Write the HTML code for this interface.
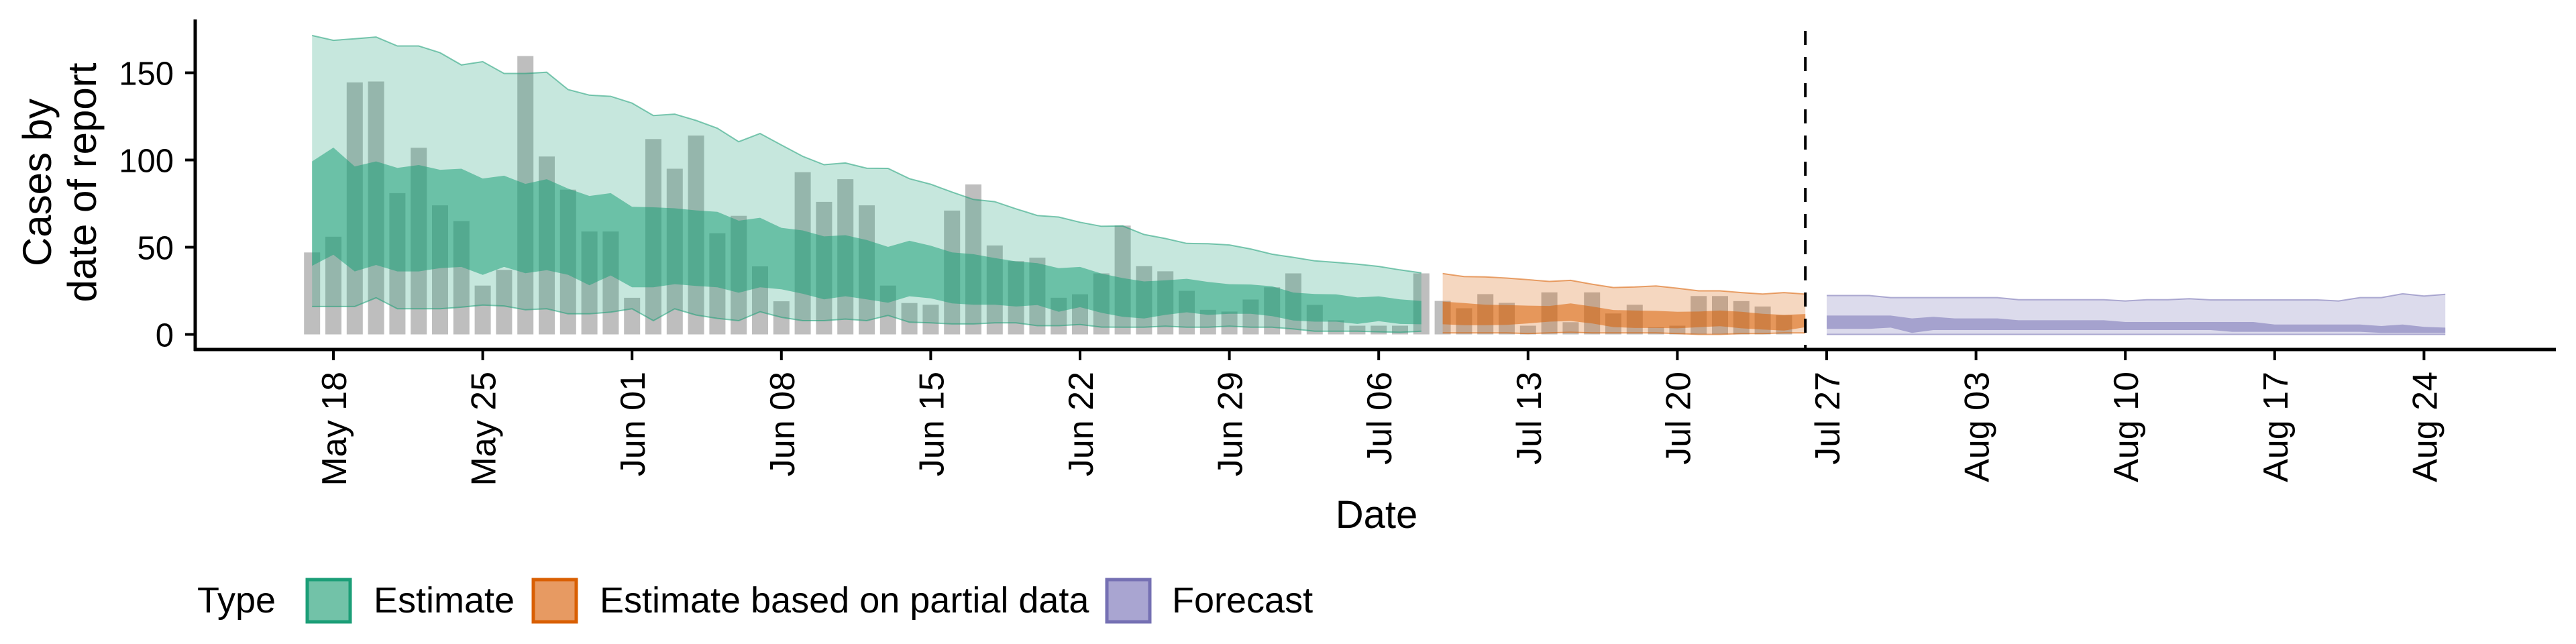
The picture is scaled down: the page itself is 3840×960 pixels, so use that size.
<!DOCTYPE html>
<html><head><meta charset="utf-8"><style>
html,body{margin:0;padding:0;background:#fff;}
svg{display:block;font-family:"Liberation Sans",Arial,sans-serif;}
</style></head><body>
<svg id="chart" width="3840" height="960" viewBox="0 0 3840 960" xmlns="http://www.w3.org/2000/svg">
<g id="bars"></g>
<g id="ribbons"></g>
<g id="axes"></g>
<text font-size="60" text-anchor="middle" transform="translate(76,272) rotate(-90)">Cases by</text>
<text font-size="60" text-anchor="middle" transform="translate(143,272) rotate(-90)">date of report</text>
<text font-size="58" text-anchor="middle" x="2052" y="787">Date</text>
<g>
<text x="294" y="913" font-size="54">Type</text>
<rect x="458" y="864" width="64" height="63" fill="#72c2a8" stroke="#1b9e77" stroke-width="5"/>
<text x="557" y="913" font-size="54">Estimate</text>
<rect x="795" y="864" width="64" height="63" fill="#e79a62" stroke="#d95f02" stroke-width="5"/>
<text x="894" y="913" font-size="54">Estimate based on partial data</text>
<rect x="1650" y="864" width="64" height="63" fill="#a9a5d1" stroke="#7570b3" stroke-width="5"/>
<text x="1747" y="913" font-size="54">Forecast</text>
</g>
</svg>
<script>
// ---- data (day index 0 = May 18) ----
const barStart = -1;
const bars = [47,56,144.5,145,81,107,74,65,28,37,159.6,102,83,59,59,21,112,95,114,
58,68,39,19,93,76,89,74,28,18,17,71,86,51,42,44,21,23,
35,62.4,39.1,36.2,25,14.1,13.1,20,27,35,16.9,8.1,5,5,5,35,
19.2,15,23.1,18.1,5,24.1,7,24.1,12,17,4.1,5,22,22,19.1,16,11];

const estStart = -1;
const estUpper90 = [171.4,168.6,169.5,170.5,165.4,165.4,161.5,154.5,156.4,149.6,149.6,150.3,140.4,137.2,136.5,132.6,125.5,126.3,122.7,
118.2,110.5,115.2,108.6,102.1,97.3,98.3,95.3,95.2,89.3,86.1,81.6,77.4,76.1,72,68.2,67.3,64.3,
62,62.2,57.3,55,52.2,52,51.3,49,46,44.2,42.2,41.3,40.3,39,37,35.3];
const estUpper50 = [99.2,107.1,96.3,99.2,95.5,97.1,94.4,95,89.4,91,86.3,89,83.6,79.4,81,73.2,72.9,72.3,71.1,
70.3,65.2,66.9,61.1,59.6,56.2,56.9,54.1,50.2,53.7,50.9,47,46,43.8,41.9,40.9,38,38.7,
34.9,32.3,30.4,31,31.9,30.1,28.8,28.6,27.6,24,23.2,23,21.2,21.8,20.1,19.2];
const estLower50 = [39.3,45.7,36.1,39.8,36.1,36.1,38,38.7,34.1,38.7,35.1,36.8,34.2,28.2,33.8,27,27,28.8,27.8,
27,23.9,27,25.9,23.3,20.1,21.9,20.1,18.2,21.9,20.7,17.8,17,17,16,16.8,13,15.6,
12.4,10.1,9.1,11.2,12.7,11.2,11.8,11.8,10.5,8,7.3,7.3,6,7.6,6,5.8];
const estLower90 = [16,16,16,21,14.7,14.7,14.7,15.6,16.8,16.3,14.1,14.7,11.8,11.8,12.8,14.7,7.9,14.7,11.1,
9.2,7.9,13,9.8,7.9,7.9,8.8,7.9,10.9,7,6.6,6,6,6.6,6.6,5,5,5.7,
4.2,4.1,4.1,4.7,4.1,4.1,4.7,4.1,4.1,3.1,1.8,1.8,1.8,1.5,1.2,1.8];

const partStart = 52;
const partUpper90 = [34.9,33.2,33,32.3,31.4,30.4,31,28.8,26.9,27.2,27.8,26.5,25,25,24,23.2,24,23.1];
const partUpper50 = [18.8,18,17,16.8,16.5,16.3,17.8,16,14,13.7,13.5,13,13.1,13.7,13,11.8,11.2,11.7];
const partLower50 = [5.8,5.3,5.3,5.5,6.3,7.3,7.7,6.3,4.2,3.7,3.7,3.5,4.1,4.7,3.5,2.8,2.2,4.1];
const partLower90 = [0.9,0.9,0.9,0.9,0.5,0.9,1.2,0.9,0.9,0.9,0.9,0.5,0,0,0.5,0.5,0.9,0.9];

const fcStart = 70;
const fcUpper90 = [22.3,22.3,22.3,21.1,21.1,21.1,21.1,21.1,21.1,19.9,19.9,19.9,19.9,19.9,19.2,19.9,19.9,20.5,19.8,19.8,19.8,19.8,19.8,19.8,19.2,21.1,21.1,23.3,22,23];
const fcUpper50 = [10.8,10.8,10.8,10.8,9.2,10.1,9.2,9.2,9.2,8.1,8.1,8.1,8.1,8.1,7.1,7.1,7.1,7.1,7.1,7.1,7.1,5.7,5.7,5.7,5.7,5.7,4.8,5.7,4.3,3.9];
const fcLower50 = [3.2,3.2,3.2,3.9,0.9,2.5,2.5,2.5,2.5,2.5,2.5,2.5,2.5,2.5,2.5,2.5,2.5,2.5,2.5,1.5,1.5,1.5,1.5,1.5,1.5,1.5,0.9,0.9,0.9,0.9];
const fcLower90 = [0,0,0,0,0,0,0,0,0,0,0,0,0,0,0,0,0,0,0,0,0,0,0,0,0,0,0,0,0,0];

const xTickDays = [0,7,14,21,28,35,42,49,56,63,70,77,84,91,98];
const xTickLabels = ["May 18","May 25","Jun 01","Jun 08","Jun 15","Jun 22","Jun 29","Jul 06","Jul 13","Jul 20","Jul 27","Aug 03","Aug 10","Aug 17","Aug 24"];
const yTicks = [0,50,100,150];
const forecastCutDay = 69;

// ---- scales ----
const NS = "http://www.w3.org/2000/svg";
function xs(d){ return 497 + d*31.8; }
function ys(v){ return 498.5 - v*2.6; }
function mk(tag, attrs, parent){
  const e = document.createElementNS(NS, tag);
  for (const k in attrs) e.setAttribute(k, attrs[k]);
  parent.appendChild(e);
  return e;
}

// bars
const gb = document.getElementById('bars');
bars.forEach((v,i)=>{
  const d = barStart + i;
  const r = mk('rect', {x: xs(d)-12, y: ys(v), width: 24, height: ys(0)-ys(v), fill: '#bebebe'}, gb);
  
  
});

// ribbons
const gr = document.getElementById('ribbons');
function ribbon(start, up, lo, fill, op, name, stroke){
  const pts = [];
  up.forEach((v,i)=>pts.push(xs(start+i).toFixed(1)+','+ys(v).toFixed(1)));
  for (let i=lo.length-1;i>=0;i--) pts.push(xs(start+i).toFixed(1)+','+ys(lo[i]).toFixed(1));
  const p = mk('polygon', {points: pts.join(' '), fill: fill, 'fill-opacity': op}, gr);
  
  
  if (stroke){
    [up, lo].forEach(arr=>{
      const l = mk('polyline', {points: arr.map((v,i)=>xs(start+i).toFixed(1)+','+ys(v).toFixed(1)).join(' '), fill:'none', stroke: fill, 'stroke-opacity': 0.55, 'stroke-width': 2}, gr);
      
      
    });
  }
}
ribbon(estStart, estUpper90, estLower90, '#1b9e77', 0.25, 'estimate-90-band', true);
ribbon(estStart, estUpper50, estLower50, '#1b9e77', 0.53, 'estimate-50-band', false);
ribbon(partStart, partUpper90, partLower90, '#d95f02', 0.25, 'partial-90-band', true);
ribbon(partStart, partUpper50, partLower50, '#d95f02', 0.53, 'partial-50-band', false);
ribbon(fcStart, fcUpper90, fcLower90, '#7570b3', 0.25, 'forecast-90-band', true);
ribbon(fcStart, fcUpper50, fcLower50, '#7570b3', 0.53, 'forecast-50-band', false);

// axes
const ga = document.getElementById('axes');
let e;
e = mk('line', {x1: xs(forecastCutDay), x2: xs(forecastCutDay), y1: 46, y2: 521, stroke:'#000', 'stroke-width':4, 'stroke-dasharray':'21 18'}, ga);


e = mk('line', {x1:291, x2:291, y1:29, y2:523, stroke:'#000', 'stroke-width':5}, ga);


e = mk('line', {x1:289, x2:3810, y1:521, y2:521, stroke:'#000', 'stroke-width':5}, ga);


yTicks.forEach(v=>{
  const t = mk('line', {x1:276, x2:291, y1: ys(v), y2: ys(v), stroke:'#000', 'stroke-width':4}, ga);
  
  
  const l = mk('text', {x:259, y: ys(v)+18, 'font-size':49, 'text-anchor':'end'}, ga);
  l.textContent = String(v);
  
  
});
xTickDays.forEach((d,i)=>{
  const x = xs(d);
  const t = mk('line', {x1:x, x2:x, y1:521, y2:537, stroke:'#000', 'stroke-width':4}, ga);
  
  
  const l = mk('text', {'font-size':52, 'text-anchor':'end', transform:'translate('+(x+19)+',554) rotate(-90)'}, ga);
  l.textContent = xTickLabels[i];
  
  
});
</script>
</body></html>
